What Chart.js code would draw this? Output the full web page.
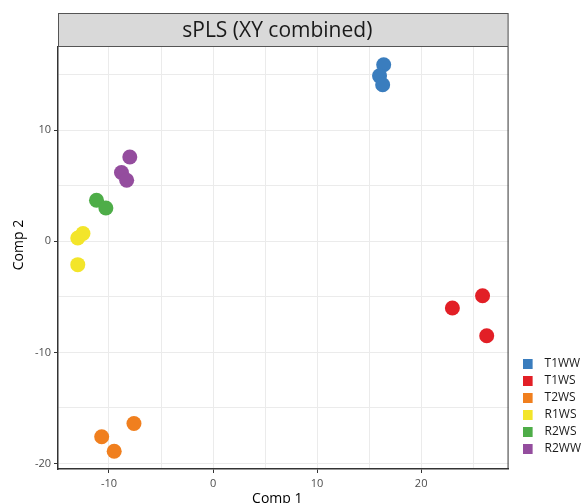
<!DOCTYPE html>
<html>
<head>
<meta charset="utf-8">
<script src="https://cdn.jsdelivr.net/npm/chart.js@4.4.1/dist/chart.umd.min.js"></script>
<style>
  html, body { margin: 0; padding: 0; background: #fff; }
  #wrap { width: 585px; height: 503px; }
</style>
</head>
<body>
<div id="wrap"><canvas id="plsGraph"></canvas></div>
<script>
const groups = ['T1WW', 'T1WS', 'T2WS', 'R1WS', 'R2WS', 'R2WW'];
const colours = ['#3A7DBE', '#E21F26', '#F07F1E', '#F3E52A', '#4EAD48', '#944D9E'];

// sample scores, one inner array per group
const comp1 = [
  [16.4, 16.0, 16.3],
  [25.9, 23.0, 26.3],
  [-7.6, -10.7, -9.5],
  [-12.5, -13.0, -13.0],
  [-11.2, -10.3],
  [-8.0, -8.8, -8.3]
];
const comp2 = [
  [15.9, 14.9, 14.1],
  [-4.9, -6.0, -8.5],
  [-16.4, -17.6, -18.9],
  [0.7, 0.3, -2.1],
  [3.7, 3.0],
  [7.6, 6.2, 5.5]
];

const titleText = 'sPLS (XY combined)';
const xTitle = 'Comp 1';
const yTitle = 'Comp 2';

const FONT = "'Open Sans', 'DejaVu Sans', sans-serif";

function swatch(colour) {
  const c = document.createElement('canvas');
  c.width = 16; c.height = 10;
  const g = c.getContext('2d');
  g.fillStyle = colour;
  g.fillRect(0, 0, 10, 10);
  return c;
}

const datasets = groups.map((g, i) => ({
  label: g,
  data: comp1[i].map((x, j) => ({x: x, y: comp2[i][j]})),
  backgroundColor: colours[i],
  borderColor: colours[i],
  borderWidth: 0,
  pointRadius: 7.5,
  pointHoverRadius: 7.5
}));

// grey strip header, panel border and axis titles, ggplot style
const stripPlugin = {
  id: 'strip',
  afterLayout(chart) {
    // nudge legend right and up a little
    if (chart.legend) {
      chart.legend.left += 9;
      chart.legend.right += 9;
      chart.legend.top -= 9;
      chart.legend.bottom -= 9;
    }
  },
  afterDraw(chart) {
    const {ctx, chartArea} = chart;
    const top = 13;
    const w = chartArea.right - chartArea.left;
    const h = chartArea.top - top;
    const mid = chartArea.left + w / 2 - 6;
    ctx.save();
    ctx.fillStyle = '#d9d9d9';
    ctx.fillRect(chartArea.left, top, w, h);
    ctx.strokeStyle = '#555555';
    ctx.lineWidth = 1;
    ctx.strokeRect(chartArea.left + 0.5, top + 0.5, w - 1, h - 1);
    ctx.strokeStyle = '#333333';
    ctx.beginPath();
    ctx.moveTo(chartArea.right - 0.5, chartArea.top);
    ctx.lineTo(chartArea.right - 0.5, chartArea.bottom);
    ctx.stroke();
    ctx.fillStyle = '#1a1a1a';
    ctx.font = '21px ' + FONT;
    ctx.textAlign = 'center';
    ctx.textBaseline = 'middle';
    ctx.fillText(titleText, mid, top + h / 2 + 1);
    ctx.fillStyle = '#000';
    ctx.font = '14px ' + FONT;
    ctx.textBaseline = 'alphabetic';
    ctx.fillText(xTitle, mid, 503);
    ctx.translate(23, 245);
    ctx.rotate(-Math.PI / 2);
    ctx.fillText(yTitle, 0, 0);
    ctx.restore();
  }
};

const majorTick = (ctx) => (ctx.tick && Math.round(ctx.tick.value) % 10 === 0) ? '#333333' : 'rgba(0,0,0,0)';

const config = {
  type: 'scatter',
  data: {datasets: datasets},
  options: {
    responsive: true,
    maintainAspectRatio: false,
    animation: false,
    layout: {padding: {top: 47, right: 3, bottom: 0, left: 0}},
    plugins: {
      tooltip: {enabled: false},
      title: {display: false},
      legend: {
        position: 'right',
        align: 'end',
        fullSize: false,
        labels: {
          usePointStyle: true,
          pointStyleWidth: 16,
          boxHeight: 10,
          padding: 5,
          color: '#1a1a1a',
          font: {family: FONT, size: 12},
          generateLabels(chart) {
            const items = Chart.defaults.plugins.legend.labels.generateLabels(chart);
            items.forEach((it, i) => { it.pointStyle = swatch(colours[i]); });
            return items;
          }
        }
      }
    },
    scales: {
      x: {
        type: 'linear',
        min: -14.9,
        max: 28.4,
        afterFit(scale) { scale.height = 34; },
        border: {display: true, color: '#333333', width: 1.5},
        grid: {color: '#ebebeb', lineWidth: 1, tickLength: 4, tickColor: majorTick, drawTicks: true},
        ticks: {
          stepSize: 5,
          includeBounds: false,
          maxRotation: 0,
          autoSkip: false,
          padding: 4,
          color: '#4d4d4d',
          font: {family: FONT, size: 11},
          callback: (v) => (Math.round(v) % 10 === 0 ? v : '')
        }
      },
      y: {
        type: 'linear',
        min: -20.5,
        max: 17.5,
        afterFit(scale) { scale.width = 58; },
        border: {display: true, color: '#333333', width: 1.5},
        grid: {color: '#ebebeb', lineWidth: 1, tickLength: 4, tickColor: majorTick, drawTicks: true},
        ticks: {
          stepSize: 5,
          includeBounds: false,
          autoSkip: false,
          padding: 3,
          color: '#4d4d4d',
          font: {family: FONT, size: 11},
          callback: (v) => (Math.round(v) % 10 === 0 ? v : '')
        }
      }
    }
  },
  plugins: [stripPlugin]
};

var plsChart = new Chart(document.getElementById('plsGraph'), config);
</script>
</body>
</html>
